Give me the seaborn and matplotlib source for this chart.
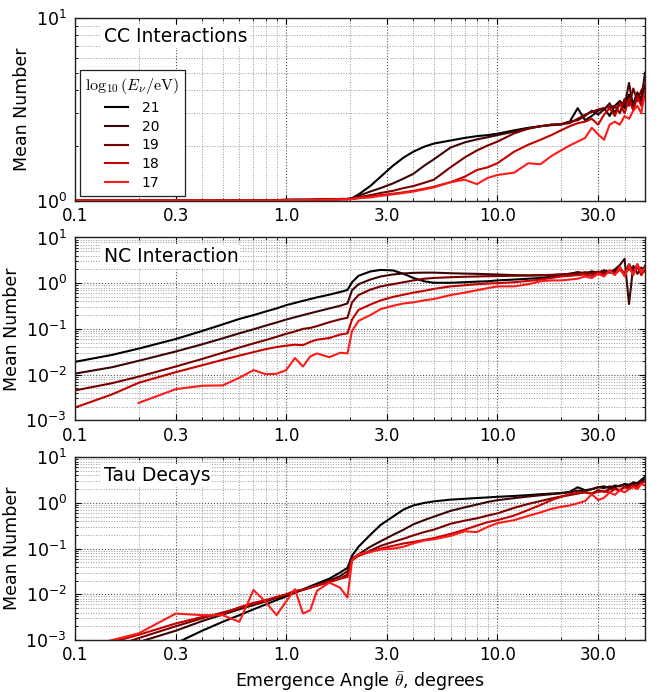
import numpy as np
import pandas as pd
import matplotlib
matplotlib.use('Agg')
import matplotlib.pyplot as plt
import matplotlib.ticker as mticker
import seaborn as sb

nan = np.nan

# Emergence angle grid (degrees), shared by every curve
angle_deg = [0.1, 0.15, 0.2, 0.3, 0.4, 0.5, 0.6, 0.7, 0.8, 0.9,
             1.0, 1.1, 1.2, 1.3, 1.4, 1.6, 1.8, 1.95, 2.05, 2.2,
             2.5, 2.8, 3.2, 3.6, 4.0, 4.5, 5.0, 6.0, 7.0, 8.0,
             9.0, 10, 12, 14, 16, 18, 20, 22, 24, 26,
             28, 30, 32, 34, 36, 38, 40, 42, 44, 46,
             48, 50]

energies = ['21', '20', '19', '18', '17']
line_colors = ['#000000', '#3d0505', '#7a0000', '#c40000', '#ff1a1a']

# CC interactions
cc_21 = [1.0, 1.0, 1.0, 1.0, 1.0, 1.0, 1.0, 1.0, 1.005, 1.005,
         1.01, 1.01, 1.01, 1.01, 1.015, 1.015, 1.02, 1.02, 1.03, 1.08,
         1.2, 1.35, 1.55, 1.72, 1.85, 1.97, 2.05, 2.13, 2.2, 2.25,
         2.28, 2.32, 2.42, 2.5, 2.55, 2.6, 2.6, 2.7, 3.2, 2.75,
         2.9, 3.1, 3.2, 2.9, 3.3, 3.5, 3.2, 3.8, 3.4, 3.9,
         3.5, 4.2]
cc_20 = [1.0, 1.0, 1.0, 1.0, 1.0, 1.0, 1.0, 1.0, 1.005, 1.005,
         1.01, 1.01, 1.01, 1.01, 1.015, 1.015, 1.02, 1.02, 1.03, 1.06,
         1.12, 1.17, 1.24, 1.32, 1.4, 1.55, 1.68, 1.95, 2.08, 2.16,
         2.22, 2.28, 2.38, 2.48, 2.55, 2.58, 2.62, 2.7, 2.75, 2.9,
         3.1, 2.95, 3.15, 3.4, 3.0, 3.5, 3.3, 4.4, 3.2, 3.8,
         3.6, 5.0]
cc_19 = [1.0, 1.0, 1.0, 1.0, 1.0, 1.0, 1.0, 1.0, 1.0, 1.005,
         1.005, 1.01, 1.01, 1.01, 1.01, 1.015, 1.015, 1.02, 1.02, 1.04,
         1.07, 1.1, 1.13, 1.17, 1.2, 1.25, 1.3, 1.52, 1.72, 1.88,
         2.0, 2.1, 2.33, 2.47, 2.55, 2.6, 2.62, 2.65, 2.8, 2.95,
         3.05, 3.15, 3.2, 3.25, 3.3, 3.0, 3.6, 3.3, 4.1, 3.5,
         4.0, 4.3]
cc_18 = [1.0, 1.0, 1.0, 1.0, 1.0, 1.0, 1.0, 1.0, 1.0, 1.0,
         1.005, 1.005, 1.005, 1.01, 1.01, 1.01, 1.015, 1.015, 1.02, 1.03,
         1.05, 1.07, 1.09, 1.11, 1.13, 1.16, 1.19, 1.26, 1.35, 1.47,
         1.52, 1.6, 1.85, 2.02, 2.15, 2.28, 2.42, 2.55, 2.65, 2.7,
         2.8, 2.6, 2.95, 3.2, 2.9, 3.4, 3.0, 3.6, 3.1, 3.7,
         3.3, 4.0]
cc_17 = [1.0, 1.0, 1.0, 1.0, 1.0, 1.0, 1.0, 1.0, 1.0, 1.0,
         1.005, 1.005, 1.005, 1.01, 1.01, 1.01, 1.015, 1.015, 1.02, 1.03,
         1.04, 1.06, 1.08, 1.1, 1.12, 1.15, 1.18, 1.26, 1.3, 1.23,
         1.33, 1.38, 1.42, 1.6, 1.58, 1.75, 1.88, 2.0, 2.1, 2.2,
         2.5, 2.3, 2.15, 2.6, 2.7, 2.6, 2.9, 2.8, 3.1, 3.3,
         3.0, 3.9]

# NC interaction
nc_21 = [0.019, 0.027, 0.037, 0.06, 0.09, 0.125, 0.165, 0.2, 0.24, 0.28,
         0.33, 0.37, 0.41, 0.45, 0.49, 0.56, 0.64, 0.71, 1.05, 1.45,
         1.8, 1.95, 1.9, 1.6, 1.3, 1.1, 1.02, 1.02, 1.05, 1.08,
         1.1, 1.15, 1.2, 1.25, 1.3, 1.38, 1.45, 1.6, 1.7, 1.55,
         1.8, 1.65, 1.9, 1.7, 1.85, 2.1, 1.6, 2.6, 1.8, 2.2,
         1.7, 2.3]
nc_20 = [0.0105, 0.0145, 0.02, 0.032, 0.046, 0.062, 0.08, 0.098, 0.118, 0.138,
         0.16, 0.18, 0.2, 0.22, 0.24, 0.28, 0.32, 0.36, 0.7, 0.95,
         1.2, 1.4, 1.55, 1.63, 1.68, 1.7, 1.7, 1.65, 1.62, 1.6,
         1.57, 1.55, 1.5, 1.48, 1.48, 1.5, 1.55, 1.6, 1.75, 1.65,
         1.8, 1.7, 1.9, 1.75, 2.0, 2.5, 3.4, 0.35, 2.4, 1.6,
         2.2, 1.8]
nc_19 = [0.0045, 0.0065, 0.009, 0.015, 0.022, 0.03, 0.039, 0.048, 0.057, 0.067,
         0.078, 0.088, 0.1, 0.105, 0.115, 0.14, 0.162, 0.175, 0.38, 0.55,
         0.72, 0.85, 0.95, 1.05, 1.15, 1.25, 1.3, 1.35, 1.38, 1.4,
         1.42, 1.43, 1.45, 1.47, 1.5, 1.52, 1.55, 1.6, 1.55, 1.75,
         1.6, 1.8, 1.65, 1.9, 1.7, 2.2, 1.6, 2.3, 1.7, 2.6,
         1.6, 2.4]
nc_18 = [0.0019, 0.0037, 0.0066, 0.0113, 0.016, 0.021, 0.026, 0.031, 0.036, 0.040,
         0.043, 0.045, 0.044, 0.052, 0.058, 0.063, 0.075, 0.08, 0.16, 0.26,
         0.34, 0.42, 0.5, 0.56, 0.62, 0.68, 0.75, 0.85, 0.9, 0.95,
         0.98, 1.0, 1.05, 1.12, 1.2, 1.3, 1.4, 1.45, 1.5, 1.55,
         1.45, 1.7, 1.5, 1.8, 1.55, 2.0, 1.5, 2.1, 1.6, 2.4,
         1.5, 2.0]
nc_17 = [nan, nan, 0.0024, 0.0048, 0.0057, 0.0058, 0.0085, 0.0125, 0.0102, 0.0104,
         0.0125, 0.023, 0.015, 0.025, 0.029, 0.024, 0.03, 0.029, 0.09, 0.15,
         0.2, 0.27, 0.32, 0.36, 0.38, 0.42, 0.45, 0.55, 0.62, 0.7,
         0.78, 0.85, 0.85, 0.95, 1.1, 1.15, 1.15, 1.2, 1.25, 1.4,
         1.3, 1.6, 1.4, 1.9, 1.5, 2.3, 1.4, 2.5, 1.5, 2.6,
         1.7, 2.2]

# Tau decays
tau_21 = [0.0001, 0.0002, 0.0004, 0.00085, 0.0016, 0.0025, 0.0035, 0.0047, 0.006, 0.0075,
          0.009, 0.0108, 0.0128, 0.015, 0.0172, 0.022, 0.03, 0.038, 0.07, 0.11,
          0.2, 0.33, 0.5, 0.72, 0.88, 1.0, 1.08, 1.18, 1.23, 1.28,
          1.32, 1.36, 1.42, 1.48, 1.55, 1.6, 1.65, 1.75, 2.2, 1.9,
          2.0, 2.2, 2.3, 2.1, 2.4, 2.3, 2.6, 2.5, 2.8, 2.7,
          3.2, 3.7]
tau_20 = [0.0002, 0.0005, 0.0009, 0.0016, 0.0026, 0.0036, 0.0047, 0.0058, 0.007, 0.0084,
          0.0098, 0.0112, 0.0128, 0.0145, 0.016, 0.02, 0.025, 0.032, 0.06, 0.075,
          0.11, 0.145, 0.2, 0.26, 0.34, 0.42, 0.5, 0.67, 0.8, 0.92,
          1.05, 1.15, 1.27, 1.38, 1.47, 1.55, 1.62, 1.7, 1.85, 1.8,
          2.0, 2.2, 2.1, 2.3, 2.2, 2.4, 2.5, 2.4, 2.7, 2.6,
          3.0, 3.3]
tau_19 = [0.0004, 0.0007, 0.0011, 0.002, 0.003, 0.004, 0.005, 0.006, 0.0072, 0.0085,
          0.0098, 0.011, 0.0125, 0.014, 0.0155, 0.0185, 0.022, 0.027, 0.055, 0.07,
          0.09, 0.115, 0.14, 0.165, 0.195, 0.23, 0.26, 0.35, 0.41, 0.46,
          0.53, 0.59, 0.78, 0.95, 1.1, 1.25, 1.38, 1.48, 1.6, 1.7,
          1.6, 1.9, 1.75, 2.0, 2.1, 1.9, 2.3, 2.2, 2.5, 2.3,
          2.8, 3.0]
tau_18 = [0.0005, 0.0009, 0.0013, 0.0023, 0.0032, 0.0038, 0.0052, 0.0065, 0.0075, 0.0088,
          0.010, 0.012, 0.0125, 0.014, 0.0155, 0.019, 0.022, 0.024, 0.06, 0.07,
          0.085, 0.1, 0.115, 0.13, 0.14, 0.155, 0.17, 0.21, 0.26, 0.32,
          0.38, 0.42, 0.53, 0.7, 0.9, 1.15, 1.35, 1.55, 1.65, 1.7,
          1.6, 1.75, 1.8, 1.7, 2.0, 1.85, 2.2, 2.0, 2.4, 2.2,
          2.7, 2.9]
tau_17 = [0.0006, 0.001, 0.0014, 0.0038, 0.0035, 0.0035, 0.0025, 0.0124, 0.0068, 0.0035,
          0.007, 0.013, 0.0038, 0.0045, 0.012, 0.018, 0.014, 0.0085, 0.055, 0.075,
          0.085, 0.095, 0.1, 0.11, 0.13, 0.15, 0.16, 0.19, 0.24, 0.23,
          0.3, 0.36, 0.42, 0.52, 0.62, 0.74, 0.82, 0.88, 0.98, 1.1,
          1.55, 1.15, 1.3, 1.7, 1.5, 1.9, 1.7, 2.0, 2.2, 2.0,
          2.6, 2.4]

panels = [
    ('CC Interactions', [cc_21, cc_20, cc_19, cc_18, cc_17], (1, 10)),
    ('NC Interaction', [nc_21, nc_20, nc_19, nc_18, nc_17], (1e-3, 10)),
    ('Tau Decays', [tau_21, tau_20, tau_19, tau_18, tau_17], (1e-3, 10)),
]
x_ticks = [0.1, 0.3, 1.0, 3.0, 10.0, 30.0]

plt.rcParams.update({
    'font.family': 'DejaVu Sans',
    'mathtext.fontset': 'cm',
    'font.size': 12,
    'axes.labelsize': 12.5,
    'xtick.labelsize': 12,
    'ytick.labelsize': 12.5,
    'xtick.direction': 'in',
    'ytick.direction': 'in',
    'xtick.top': True,
    'ytick.right': True,
    'xtick.major.size': 4,
    'ytick.major.size': 4,
    'xtick.minor.size': 2,
    'ytick.minor.size': 2,
    'xtick.major.pad': 4.5,
    'ytick.major.pad': 6,
    'axes.linewidth': 1.0,
    'axes.edgecolor': '#222222',
})

fig, axes = plt.subplots(3, 1, figsize=(6.68, 6.92), dpi=100)
fig.subplots_adjust(left=0.1123, right=0.9656, top=0.9744, bottom=0.0751, hspace=0.202)

for i, (ax, (name, curves, ylim)) in enumerate(zip(axes, panels)):
    frames = [pd.DataFrame({'angle': angle_deg, 'mean': y, 'energy': e})
              for e, y in zip(energies, curves)]
    df = pd.concat(frames, ignore_index=True).dropna()
    sb.lineplot(data=df, x='angle', y='mean', hue='energy', hue_order=energies,
                palette=line_colors, estimator=None, linewidth=1.5, ax=ax,
                legend=(i == 0))
    ax.set_xscale('log')
    ax.set_yscale('log')
    ax.set_xlim(0.1, 50)
    ax.set_ylim(*ylim)

    ax.set_xticks(x_ticks)
    ax.xaxis.set_major_formatter(mticker.FormatStrFormatter('%.1f'))
    ax.xaxis.set_minor_locator(mticker.LogLocator(base=10, subs=np.arange(2, 10)))
    ax.xaxis.set_minor_formatter(mticker.NullFormatter())
    ax.yaxis.set_major_locator(mticker.LogLocator(base=10))
    ax.yaxis.set_minor_locator(mticker.LogLocator(base=10, subs=np.arange(2, 10)))
    ax.yaxis.set_minor_formatter(mticker.NullFormatter())

    ax.grid(True, which='major', linestyle=':', color='#555555', linewidth=0.8)
    ax.grid(True, which='minor', linestyle=':', color='#999999', linewidth=0.7)
    ax.set_axisbelow(True)

    ax.set_ylabel('Mean Number', labelpad=3)
    ax.set_xlabel('')
    ax.text(0.05, 0.95, name, transform=ax.transAxes, ha='left', va='top',
            fontsize=13.5, zorder=5,
            bbox=dict(facecolor='white', edgecolor='none', pad=1.5))

    if i == 0:
        handles, labels = ax.get_legend_handles_labels()
        leg = ax.legend(handles, labels, title=r'$\log_{10}(E_\nu/\mathrm{eV})$',
                        loc='lower left', fontsize=10, title_fontsize=11.5,
                        frameon=True, fancybox=False, edgecolor='#222222',
                        framealpha=1, borderaxespad=0.35, handlelength=1.6,
                        handletextpad=1.0, labelspacing=0.35)
        leg.get_frame().set_linewidth(0.9)
        leg.set_zorder(6)

axes[-1].set_xlabel(r'Emergence Angle $\bar{\theta}$, degrees')

fig.savefig('out.png', dpi=100, facecolor='white')
